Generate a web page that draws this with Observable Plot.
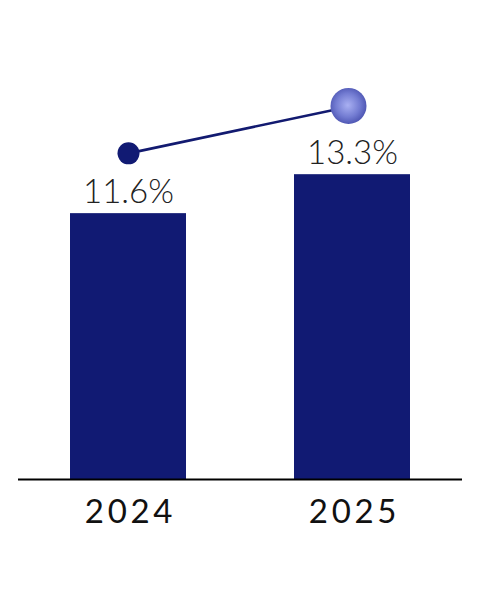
<!DOCTYPE html>
<html>
<head>
<meta charset="utf-8">
<script src="https://cdn.jsdelivr.net/npm/d3@7"></script>
<script src="https://cdn.jsdelivr.net/npm/@observablehq/plot@0.6"></script>
<style>
  html, body { margin: 0; padding: 0; background: #fff; }
  #chart svg { display: block; }
</style>
</head>
<body>
<div id="chart"></div>
<script>
const years = ["2024", "2025"];
const values = [11.6, 13.3];
const labels = ["11.6%", "13.3%"];
const trend = [14.23, 16.3];

const bars = years.map((y, i) => ({year: y, value: values[i], label: labels[i]}));
const pts = years.map((y, i) => ({year: y, t: trend[i]}));

const navy = "#111a73";

const chart = Plot.plot({
  width: 480,
  height: 600,
  marginLeft: 18,
  marginRight: 18,
  marginTop: 0,
  marginBottom: 121,
  style: {background: "#fff", fontFamily: "Lato, 'DejaVu Sans', sans-serif"},
  x: {domain: years, paddingInner: 0.482, paddingOuter: 0.232, axis: null},
  y: {domain: [0, 20.9], axis: null},
  marks: [
    Plot.barY(bars, {x: "year", y: "value", text: "label", fill: navy}),
    Plot.ruleY([0], {stroke: "#000", strokeWidth: 2}),
    Plot.text(bars, {x: "year", y: "value", text: "label", lineAnchor: "bottom", dy: -11, dx: 0,
      fontSize: 33, fill: "#222", fontWeight: 300, className: "vals"}),
    Plot.text(bars, {x: "year", y: 0, text: "year", lineAnchor: "top", dy: 20, dx: 2,
      fontSize: 33, fill: "#111", fontWeight: 400, className: "yrs"}),
    Plot.line(pts, {x: "year", y: "t", stroke: "#121a70", strokeWidth: 2.6}),
    Plot.dot(pts.slice(0, 1), {x: "year", y: "t", r: 11, fill: navy}),
    Plot.dot(pts.slice(1), {x: "year", y: "t", r: 18, dx: -4, fill: "url(#sphere)"})
  ]
});

const svg = d3.select(chart);
svg.selectAll(".yrs text").style("letter-spacing", "3.7px");
const defs = svg.insert("defs", ":first-child");
const g = defs.append("radialGradient").attr("id", "sphere")
  .attr("cx", "48%").attr("cy", "48%").attr("r", "55%");
g.append("stop").attr("offset", "0%").attr("stop-color", "#a9b0f2");
g.append("stop").attr("offset", "60%").attr("stop-color", "#737cd2");
g.append("stop").attr("offset", "100%").attr("stop-color", "#4a52b0");

document.getElementById("chart").appendChild(chart);
</script>
</body>
</html>
